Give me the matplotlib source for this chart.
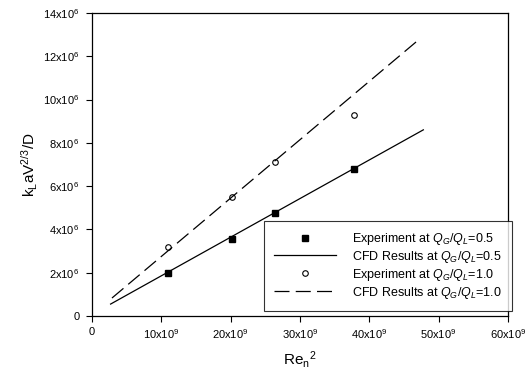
import matplotlib
matplotlib.use("Agg")
import matplotlib.pyplot as plt
from matplotlib.ticker import FixedLocator, FuncFormatter

plt.rcParams["font.family"] = ["Liberation Sans", "DejaVu Sans"]
plt.rcParams["mathtext.fontset"] = "custom"
plt.rcParams["mathtext.rm"] = "Liberation Sans"
plt.rcParams["mathtext.it"] = "Liberation Sans:italic"

# data (x in units of 1e9, y in units of 1e6)
re_exp = [11.0, 20.2, 26.4, 37.8]
exp_05 = [2.0, 3.57, 4.77, 6.8]
exp_10 = [3.2, 5.5, 7.1, 9.27]
cfd_x05 = [2.7, 47.8]
cfd_05 = [0.55, 8.6]
cfd_x10 = [2.9, 46.9]
cfd_10 = [0.83, 12.7]

x_ticks = [0, 10, 20, 30, 40, 50, 60]
y_ticks = [0, 2, 4, 6, 8, 10, 12, 14]

fig = plt.figure(figsize=(5.28, 3.70), dpi=100)
ax = fig.add_axes([0.174, 0.146, 0.788, 0.819])

ax.plot(re_exp, exp_05, "s", color="black", markersize=4, label=r"Experiment at $\it{Q}_G$/$\it{Q}_L$=0.5")
ax.plot(cfd_x05, cfd_05, "-", color="black", lw=0.9, label=r"CFD Results at $\it{Q}_G$/$\it{Q}_L$=0.5")
ax.plot(re_exp, exp_10, "o", mfc="white", mec="black", mew=0.8, markersize=4, label=r"Experiment at $\it{Q}_G$/$\it{Q}_L$=1.0")
ax.plot(cfd_x10, cfd_10, color="black", lw=0.9, dashes=(12, 5), label=r"CFD Results at $\it{Q}_G$/$\it{Q}_L$=1.0")

ax.set_xlim(0, 60)
ax.set_ylim(0, 14)
ax.xaxis.set_major_locator(FixedLocator(x_ticks))
ax.yaxis.set_major_locator(FixedLocator(y_ticks))
ax.xaxis.set_major_formatter(FuncFormatter(lambda v, p: "0" if v == 0 else "%dx10$^9$" % v))
ax.yaxis.set_major_formatter(FuncFormatter(lambda v, p: "0" if v == 0 else "%dx10$^6$" % v))
ax.tick_params(direction="out", length=4, width=0.8, labelsize=8, pad=5)
ax.tick_params(axis="x", pad=4)
for s in ax.spines.values():
    s.set_linewidth(0.9)

ax.set_xlabel(r"Re$_\mathrm{n}$$^2$", fontsize=11, labelpad=6)
ax.set_ylabel(r"k$_\mathrm{L}$aV$^{2/3}$/D", fontsize=11, labelpad=2)

leg = ax.legend(loc="lower right", bbox_to_anchor=(1.01, 0.018), fontsize=9, frameon=True,
                fancybox=False, edgecolor="black", handlelength=5.0, borderpad=0.8,
                labelspacing=0.15, handletextpad=1.3, borderaxespad=0)
leg.get_frame().set_linewidth(0.8)

fig.savefig("out.png", dpi=100)
